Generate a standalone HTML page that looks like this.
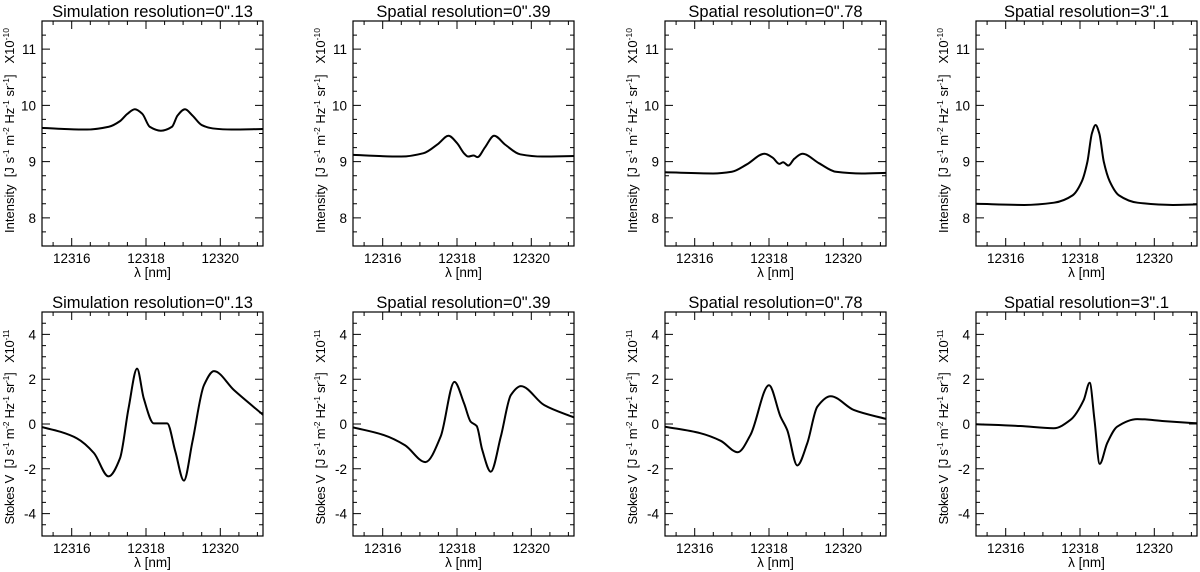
<!DOCTYPE html>
<html><head><meta charset="utf-8">
<style>
html,body{margin:0;padding:0;background:#fff;}
svg{display:block;font-family:"Liberation Sans",sans-serif;}
</style></head>
<body>
<svg id="fig" width="1200" height="572" viewBox="0 0 1200 572" xmlns="http://www.w3.org/2000/svg"></svg>
<script>
// ---- data ----
const panelTitles = ["Simulation resolution=0\".13","Spatial resolution=0\".39","Spatial resolution=0\".78","Spatial resolution=3\".1"];
const xTicks = [12316, 12318, 12320];
const intensityTicks = [8, 9, 10, 11];
const stokesTicks = [-4, -2, 0, 2, 4];

const i1Wl = [12315.2,12315.8,12316.4,12317.0,12317.3,12317.5,12317.7,12317.9,12318.1,12318.4,12318.7,12318.85,12319.05,12319.25,12319.5,12319.8,12320.3,12321.15];
const i1Val = [9.60,9.58,9.57,9.62,9.72,9.85,9.93,9.85,9.62,9.55,9.62,9.82,9.93,9.82,9.65,9.59,9.57,9.58];
const i2Wl = [12315.2,12316.5,12317.1,12317.5,12317.77,12318.0,12318.2,12318.3,12318.45,12318.55,12318.75,12319.0,12319.3,12319.7,12320.3,12321.15];
const i2Val = [9.12,9.09,9.15,9.32,9.46,9.33,9.14,9.09,9.11,9.08,9.25,9.46,9.30,9.13,9.09,9.10];
const i3Wl = [12315.2,12316.5,12317.0,12317.4,12317.88,12318.1,12318.28,12318.38,12318.52,12318.68,12318.9,12319.35,12319.8,12320.5,12321.15];
const i3Val = [8.81,8.79,8.82,8.95,9.14,9.07,8.96,8.99,8.93,9.05,9.14,8.97,8.82,8.79,8.80];
const i4Wl = [12315.2,12316.5,12317.3,12317.8,12318.05,12318.2,12318.32,12318.42,12318.52,12318.64,12318.8,12319.05,12319.55,12320.5,12321.15];
const i4Val = [8.25,8.23,8.27,8.40,8.65,9.00,9.50,9.65,9.50,9.00,8.65,8.40,8.27,8.23,8.24];

const v1Wl = [12315.2,12315.7,12316.14,12316.6,12316.99,12317.3,12317.53,12317.76,12317.94,12318.21,12318.57,12318.79,12319.02,12319.25,12319.56,12319.83,12320.37,12321.18];
const v1Val = [-0.14,-0.35,-0.64,-1.3,-2.34,-1.53,0.70,2.47,1.14,0.03,0.03,-1.23,-2.53,-0.79,1.73,2.36,1.51,0.37];
const v2Wl = [12315.2,12316.02,12316.6,12317.15,12317.56,12317.93,12318.19,12318.37,12318.53,12318.68,12318.91,12319.18,12319.45,12319.72,12320.35,12321.2];
const v2Val = [-0.15,-0.49,-0.95,-1.70,-0.56,1.88,0.92,0.10,-0.09,-1.16,-2.13,-0.56,1.29,1.69,0.84,0.26];
const v3Wl = [12315.2,12316.15,12316.7,12317.16,12317.5,12318.0,12318.31,12318.49,12318.76,12319.03,12319.3,12319.66,12320.29,12321.19];
const v3Val = [-0.12,-0.41,-0.75,-1.26,-0.49,1.73,0.33,-0.27,-1.85,-0.86,0.77,1.24,0.62,0.21];
const v4Wl = [12315.2,12316.39,12317.29,12317.74,12318.1,12318.26,12318.39,12318.53,12318.73,12319.0,12319.54,12320.26,12321.16];
const v4Val = [-0.01,-0.09,-0.19,0.18,1.07,1.84,0.18,-1.78,-0.86,-0.12,0.22,0.13,0.03];

const intensityWl = [i1Wl,i2Wl,i3Wl,i4Wl];
const intensityVal = [i1Val,i2Val,i3Val,i4Val];
const stokesWl = [v1Wl,v2Wl,v3Wl,v4Wl];
const stokesVal = [v1Val,v2Val,v3Val,v4Val];

// ---- layout ----
const NS = "http://www.w3.org/2000/svg";
const svg = document.getElementById("fig");
const lefts = [42, 353, 665, 976];
const W = 221;
const rows = [
  {top:21, bottom:246, ymin:7.5, ymax:11.5, ticks:intensityTicks, minor:0.25, label:"Intensity", exp:"-10", wl:intensityWl, val:intensityVal, kind:"intensity", tlen:205},
  {top:312, bottom:536, ymin:-5, ymax:5, ticks:stokesTicks, minor:0.5, label:"Stokes V", exp:"-11", wl:stokesWl, val:stokesVal, kind:"stokes-v", tlen:195}
];
const XMIN = 12315.2, XMAX = 12321.15;

function mk(tag, attrs, parent){
  const e = document.createElementNS(NS, tag);
  for (const k in attrs) e.setAttribute(k, attrs[k]);
  (parent||svg).appendChild(e);
  return e;
}

function monotonePath(P){
  const n = P.length, dx = [], m = [], t = [];
  for (let i = 0; i < n-1; i++){ dx[i] = P[i+1][0]-P[i][0]; m[i] = (P[i+1][1]-P[i][1])/dx[i]; }
  t[0] = m[0]; t[n-1] = m[n-2];
  for (let i = 1; i < n-1; i++){
    if (m[i-1]*m[i] <= 0) t[i] = 0;
    else { const w1 = 2*dx[i]+dx[i-1], w2 = dx[i]+2*dx[i-1]; t[i] = (w1+w2)/(w1/m[i-1]+w2/m[i]); }
  }
  let d = `M${P[0][0].toFixed(2)},${P[0][1].toFixed(2)}`;
  for (let i = 0; i < n-1; i++){
    const h = dx[i]/3;
    d += `C${(P[i][0]+h).toFixed(2)},${(P[i][1]+t[i]*h).toFixed(2)} ${(P[i+1][0]-h).toFixed(2)},${(P[i+1][1]-t[i+1]*h).toFixed(2)} ${P[i+1][0].toFixed(2)},${P[i+1][1].toFixed(2)}`;
  }
  return d;
}

rows.forEach((r, ri) => {
  lefts.forEach((L, pi) => {
    const g = mk("g", {});
    
    
    const xs = v => L + (v - XMIN) / (XMAX - XMIN) * W;
    const ys = v => r.bottom - (v - r.ymin) / (r.ymax - r.ymin) * (r.bottom - r.top);

    const t = mk("text", {x: L + W/2, y: r.top - 4, "text-anchor":"middle", "font-size":"16.5"}, g);
    t.textContent = panelTitles[pi];
    
    

    let d = "";
    for (let v = 12315.5; v <= XMAX; v += 0.5) {
      const x = xs(v).toFixed(1);
      const major = Math.abs(v - Math.round(v/2)*2) < 1e-6;
      const len = major ? 8 : 4;
      d += `M${x},${r.bottom}v${-len}M${x},${r.top}v${len}`;
    }
    for (let v = Math.ceil(r.ymin / r.minor) * r.minor; v <= r.ymax + 1e-9; v += r.minor) {
      const y = ys(v).toFixed(1);
      const major = Math.abs(v - Math.round(v)) < 1e-6 && (ri === 0 || Math.round(v) % 2 === 0);
      const len = major ? 8 : 4;
      d += `M${L},${y}h${len}M${L+W},${y}h${-len}`;
    }
    const tk = mk("path", {d: d, stroke:"#000", "stroke-width":"1", fill:"none"}, g);
    
    

    const fr = mk("rect", {x:L, y:r.top, width:W, height:r.bottom - r.top, fill:"none", stroke:"#000", "stroke-width":"1.2"}, g);
    
    

    xTicks.forEach(v => {
      const tl = mk("text", {x: xs(v), y: r.bottom + 17, "text-anchor":"middle", "font-size":"13.5"}, g);
      tl.textContent = v;
      
      
    });
    const xl = mk("text", {x: L + W/2, y: r.bottom + 31, "text-anchor":"middle", "font-size":"13.5"}, g);
    xl.textContent = "λ [nm]";
    
    

    r.ticks.forEach(v => {
      const tl = mk("text", {x: L - 6, y: ys(v) + 5, "text-anchor":"end", "font-size":"13.5"}, g);
      tl.textContent = v;
      
      
    });

    const cy = (r.top + r.bottom) / 2 - (ri === 0 ? 3 : -3);
    const yt = mk("text", {x: 0, y: 0, "text-anchor":"middle", "font-size":"13", style:"white-space:pre", textLength: r.tlen, lengthAdjust:"spacing", transform:`translate(${L-28},${cy}) rotate(-90)`}, g);
    
    
    const parts = [[r.label + "  [J s",0],["-1",1],[" m",0],["-2",1],[" Hz",0],["-1",1],[" sr",0],["-1",1],["]   X10",0],[r.exp,1]];
    let prevSup = false;
    parts.forEach(p => {
      const attrs = p[1] ? {"font-size":"8.5", dy:"-5"} : {dy: prevSup ? "5" : "0"};
      const ts = mk("tspan", attrs, yt);
      ts.textContent = p[0];
      prevSup = !!p[1];
    });

    const wl = r.wl[pi], val = r.val[pi];
    const P = wl.map((w, i) => [xs(w), ys(val[i])]);
    const clip = mk("clipPath", {id:`c${ri}${pi}`}, g);
    mk("rect", {x:L, y:r.top, width:W, height:r.bottom - r.top}, clip);
    const line = mk("path", {d: monotonePath(P), fill:"none", stroke:"#000", "stroke-width":"2", "stroke-linejoin":"round", "clip-path":`url(#c${ri}${pi})`}, g);
    
    
  });
});
</script>
</body></html>
